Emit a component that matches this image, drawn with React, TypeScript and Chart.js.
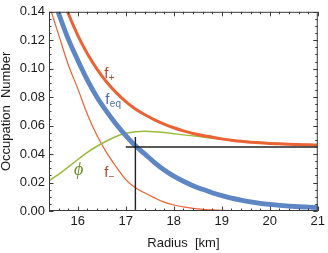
import React, { useEffect, useRef } from "react";
import { Chart, registerables } from "chart.js";

Chart.register(...registerables);

// Radius grid [km]
const RADIUS = [
  15.4, 15.6, 15.8, 16.0, 16.2, 16.4, 16.6, 16.8, 17.0, 17.2,
  17.4, 17.6, 17.8, 18.0, 18.2, 18.4, 18.6, 18.8, 19.0, 19.2,
  19.4, 19.6, 19.8, 20.0, 20.2, 20.4, 20.6, 20.8, 21.0,
];

const F_PLUS = [
  0.182, 0.158, 0.139, 0.1235, 0.1105, 0.0997, 0.0907, 0.0832, 0.0769, 0.0717,
  0.0676, 0.0641, 0.0611, 0.0585, 0.0563, 0.0545, 0.0531, 0.0519, 0.0507, 0.0498,
  0.049, 0.0484, 0.0479, 0.0475, 0.0472, 0.0469, 0.0467, 0.0465, 0.0464,
];

const F_EQ = [
  0.159, 0.139, 0.121, 0.106, 0.092, 0.080, 0.070, 0.061, 0.053, 0.0458,
  0.040, 0.034, 0.0288, 0.0245, 0.0209, 0.0178, 0.0152, 0.0128, 0.0108, 0.0090,
  0.0076, 0.0064, 0.0054, 0.0046, 0.0039, 0.0034, 0.0030, 0.0027, 0.0024,
];

const F_MINUS = [
  0.145, 0.124, 0.103, 0.086, 0.068, 0.053, 0.041, 0.031, 0.022, 0.0163,
  0.0126, 0.0092, 0.0062, 0.0042, 0.0029, 0.0019, 0.0012, 0.0008, 0.0005, 0.0003,
  0.0002, 0.0002, 0.0001, 0.0001, 0.0001, 0.0001, 0.0001, 0.0001, 0.0001,
];

const PHI = [
  0.0213, 0.0258, 0.0308, 0.0362, 0.0412, 0.0455, 0.0492, 0.0524, 0.0546, 0.0557,
  0.0560, 0.0557, 0.0551, 0.0543, 0.0535, 0.0528, 0.0520, 0.0512, 0.0505, 0.0498,
  0.0492, 0.0487, 0.0482, 0.0478, 0.0474, 0.0471, 0.0468, 0.0466, 0.0464,
];

// Crosshair marking f_eq = 0.045 at r = 17.2 km
const H_LINE_VALUE = 0.045;
const H_LINE_START = 17.0;
const V_LINE_RADIUS = 17.2;
const V_LINE_TOP = 0.052;

const X_MIN = 15.4;
const X_MAX = 21;
const Y_MIN = 0;
const Y_MAX = 0.14;
const X_TICKS = [16, 17, 18, 19, 20, 21];
const Y_TICKS = [0, 0.02, 0.04, 0.06, 0.08, 0.1, 0.12, 0.14];
const X_MINOR_STEP = 0.2;
const Y_MINOR_STEP = 0.005;

const CURVE_LABELS = [
  { main: "f", sub: "+", r: 16.55, v: 0.0935, color: "#b3482c", italic: false },
  { main: "f", sub: "eq", r: 16.57, v: 0.0755, color: "#4b6fa6", italic: false },
  { main: "ϕ", sub: "", r: 15.92, v: 0.0254, color: "#6d8b23", italic: true },
  { main: "f", sub: "−", r: 16.55, v: 0.024, color: "#b3482c", italic: false },
];

const pts = (ys: number[]) => RADIUS.map((r, i) => ({ x: r, y: ys[i] }));

const framePlugin = {
  id: "frameTicks",
  afterDatasetsDraw(chart: any) {
    const { ctx, chartArea: a, scales } = chart;
    const xs = scales.x;
    const ys = scales.y;
    ctx.save();
    ctx.strokeStyle = "#3a3a3a";
    ctx.lineWidth = 1;
    ctx.strokeRect(a.left + 0.5, a.top + 0.5, a.right - a.left - 1, a.bottom - a.top - 1);
    ctx.beginPath();
    const nx = Math.round((X_MAX - X_MIN) / X_MINOR_STEP);
    for (let k = 0; k <= nx; k++) {
      const v = X_MIN + k * X_MINOR_STEP;
      const major = Math.abs(v - Math.round(v)) < 1e-6;
      const len = major ? 4.5 : 2.5;
      const px = Math.round(xs.getPixelForValue(v)) + 0.5;
      ctx.moveTo(px, a.bottom);
      ctx.lineTo(px, a.bottom - len);
      ctx.moveTo(px, a.top);
      ctx.lineTo(px, a.top + len);
    }
    const ny = Math.round((Y_MAX - Y_MIN) / Y_MINOR_STEP);
    for (let k = 0; k <= ny; k++) {
      const v = Y_MIN + k * Y_MINOR_STEP;
      const major = k % 4 === 0;
      const len = major ? 4.5 : 2.5;
      const py = Math.round(ys.getPixelForValue(v)) + 0.5;
      ctx.moveTo(a.left, py);
      ctx.lineTo(a.left + len, py);
      ctx.moveTo(a.right, py);
      ctx.lineTo(a.right - len, py);
    }
    ctx.stroke();

    // curve labels
    for (const l of CURVE_LABELS) {
      const px = xs.getPixelForValue(l.r);
      const py = ys.getPixelForValue(l.v);
      ctx.fillStyle = l.color;
      ctx.textBaseline = "alphabetic";
      ctx.textAlign = "left";
      ctx.font = l.italic
        ? "italic 18px 'Liberation Serif', 'DejaVu Serif', serif"
        : "15px 'Liberation Sans', Arial, sans-serif";
      ctx.fillText(l.main, px, py);
      if (l.sub) {
        const w = ctx.measureText(l.main).width;
        ctx.font = "10px 'Liberation Sans', Arial, sans-serif";
        ctx.fillText(l.sub, px + w + 0.5, py + 3);
      }
    }
    ctx.restore();
  },
};

export default function App() {
  const ref = useRef<HTMLCanvasElement>(null);
  useEffect(() => {
    document.body.style.margin = "0";
    const tickFont = { family: "'Liberation Sans', Arial, sans-serif", size: 13 };
    const chart = new Chart(ref.current!, {
      type: "line",
      data: {
        datasets: [
          {
            label: "hline",
            data: [
              { x: H_LINE_START, y: H_LINE_VALUE },
              { x: X_MAX, y: H_LINE_VALUE },
            ],
            borderColor: "#222",
            borderWidth: 1.4,
            pointRadius: 0,
            clip: 0,
          },
          {
            label: "vline",
            data: [
              { x: V_LINE_RADIUS, y: Y_MIN },
              { x: V_LINE_RADIUS, y: V_LINE_TOP },
            ],
            borderColor: "#222",
            borderWidth: 1.4,
            pointRadius: 0,
            clip: 0,
          },
          {
            label: "f_eq",
            data: pts(F_EQ),
            borderColor: "#5e86c4",
            borderWidth: 4.8,
            pointRadius: 0,
            cubicInterpolationMode: "monotone",
            clip: 0,
          },
          {
            label: "f_+",
            data: pts(F_PLUS),
            borderColor: "#eb6235",
            borderWidth: 3,
            pointRadius: 0,
            cubicInterpolationMode: "monotone",
            clip: 0,
          },
          {
            label: "phi",
            data: pts(PHI),
            borderColor: "#9bbb3a",
            borderWidth: 1.5,
            pointRadius: 0,
            cubicInterpolationMode: "monotone",
            clip: 0,
          },
          {
            label: "f_-",
            data: pts(F_MINUS),
            borderColor: "#ee5f33",
            borderWidth: 1.2,
            pointRadius: 0,
            cubicInterpolationMode: "monotone",
            clip: 0,
          },
        ],
      },
      options: {
        animation: false,
        responsive: false,
        maintainAspectRatio: false,
        devicePixelRatio: 1,
        layout: { padding: { top: 4, right: 7, bottom: 0, left: 0 } },
        plugins: { legend: { display: false }, tooltip: { enabled: false } },
        scales: {
          x: {
            type: "linear",
            min: X_MIN,
            max: X_MAX,
            grid: { display: false, drawTicks: false },
            border: { display: false },
            afterBuildTicks: (s: any) => {
              s.ticks = X_TICKS.map((v) => ({ value: v }));
            },
            afterFit: (s: any) => {
              s.height = 42;
            },
            ticks: {
              font: tickFont,
              color: "#1a1a1a",
              padding: 3,
              maxRotation: 0,
              autoSkip: false,
              callback: (v: any) => String(v),
            },
            title: {
              display: true,
              text: "Radius  [km]",
              font: { family: "'Liberation Sans', Arial, sans-serif", size: 13 },
              color: "#1a1a1a",
              padding: { top: 0, bottom: 2 },
            },
          },
          y: {
            type: "linear",
            min: Y_MIN,
            max: Y_MAX,
            grid: { display: false, drawTicks: false },
            border: { display: false },
            afterBuildTicks: (s: any) => {
              s.ticks = Y_TICKS.map((v) => ({ value: v }));
            },
            afterFit: (s: any) => {
              s.width = 49;
            },
            ticks: {
              font: tickFont,
              color: "#1a1a1a",
              padding: 4,
              autoSkip: false,
              callback: (v: any) => Number(v).toFixed(2),
            },
            title: {
              display: true,
              text: "Occupation  Number",
              font: { family: "'Liberation Sans', Arial, sans-serif", size: 13, lineHeight: 1 },
              color: "#1a1a1a",
              padding: { top: 0, bottom: 0 },
            },
          },
        },
      },
      plugins: [framePlugin],
    } as any);
    return () => chart.destroy();
  }, []);
  return (
    <div style={{ width: 328, height: 253 }}>
      <canvas ref={ref} width={328} height={253} style={{ display: "block" }} />
    </div>
  );
}
